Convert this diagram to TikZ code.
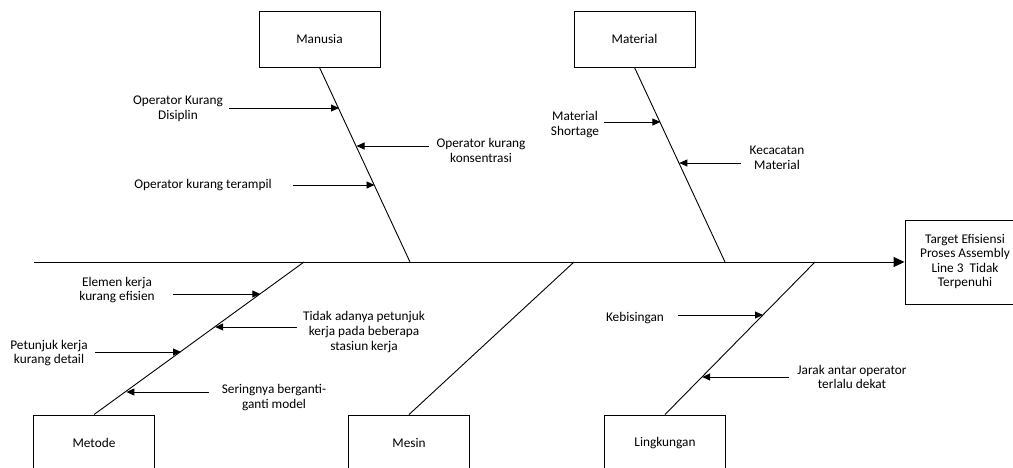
\documentclass[tikz,border=0pt]{standalone}
\usepackage{fontspec}
\setmainfont{Carlito}
\usetikzlibrary{arrows.meta}
\begin{document}
\begin{tikzpicture}[x=1pt,y=-1pt,
  catbox/.style={draw,line width=0.9pt,rectangle,minimum width=121pt,minimum height=56pt,inner sep=0pt,font=\fontsize{13.3pt}{14.6pt}\selectfont},
  lbl/.style={align=center,inner sep=0pt,font=\fontsize{13.3pt}{14.6pt}\selectfont},
  bone/.style={line width=0.9pt},
  sub/.style={line width=0.9pt,-{Triangle[length=8pt,width=7pt]}},
  spine/.style={line width=0.9pt,-{Triangle[length=11pt,width=10pt]}}]
\useasboundingbox (0,0) rectangle (1013,468);
% category boxes
\node[catbox] (man) at (319.5,39) {Manusia};
\node[catbox] (mat) at (634.5,39) {Material};
\node[catbox] (met) at (94,443) {Metode};
\node[catbox] (mes) at (409,443) {Mesin};
\node[catbox] (lin) at (665,443) {Lingkungan};
\node[catbox,minimum width=120pt,minimum height=84pt] (tgt) at (965,262) {};
\node[lbl] (tgtt) at (965,261.5) {Target Efisiensi\\Proses Assembly\\Line 3~~Tidak\\Terpenuhi};
% spine
\coordinate (s0) at (34,262);
\draw[spine] (s0) -- (tgt.west);
% bone joints
\coordinate (jman) at (410,262);
\coordinate (jmat) at (725,262);
\coordinate (jmet) at (304,262);
\coordinate (jmes) at (574,262);
\coordinate (jlin) at (815,262);
\draw[bone] (man.south) -- (jman);
\draw[bone] (mat.south) -- (jmat);
\draw[bone] (met.north) -- (jmet);
\draw[bone] (mes.north) -- (jmes);
\draw[bone] (lin.north) -- (jlin);
% labels
\node[lbl] (t1) at (178,109) {Operator Kurang\\Disiplin};
\node[lbl] (t2) at (481,150.5) {Operator kurang\\konsentrasi};
\node[lbl] (t3) at (203,185) {Operator kurang terampil};
\node[lbl] (t4) at (575,124.5) {Material\\Shortage};
\node[lbl] (t5) at (777,157.5) {Kecacatan\\Material};
\node[lbl] (t6) at (117,290) {Elemen kerja\\kurang efisien};
\node[lbl] (t7) at (364,332) {Tidak adanya petunjuk\\kerja pada beberapa\\stasiun kerja};
\node[lbl] (t8) at (49,353) {Petunjuk kerja\\kurang detail};
\node[lbl] (t9) at (274,397.5) {Seringnya berganti-\\ganti model};
\node[lbl] (t10) at (635,318) {Kebisingan};
\node[lbl] (t11) at (852,377) {Jarak antar operator\\terlalu dekat};
% sub-cause arrows
\coordinate (a1s) at (229,108); \coordinate (a1e) at (339,108);
\coordinate (a2s) at (429,146); \coordinate (a2e) at (356.5,146);
\coordinate (a3s) at (293,185); \coordinate (a3e) at (374.5,185);
\coordinate (a4s) at (604,122); \coordinate (a4e) at (660.4,122);
\coordinate (a5s) at (741,163); \coordinate (a5e) at (679.3,163);
\coordinate (a6s) at (173,294); \coordinate (a6e) at (260.3,294);
\coordinate (a7s) at (297,327); \coordinate (a7e) at (215.2,327);
\coordinate (a8s) at (95,352); \coordinate (a8e) at (181,352);
\coordinate (a9s) at (209,392); \coordinate (a9e) at (126.4,392);
\coordinate (a10s) at (678,315); \coordinate (a10e) at (763,315);
\coordinate (a11s) at (789,377); \coordinate (a11e) at (702.2,377);
\foreach \i in {1,...,11} {\draw[sub] (a\i s) -- (a\i e);}
\end{tikzpicture}
\end{document}
